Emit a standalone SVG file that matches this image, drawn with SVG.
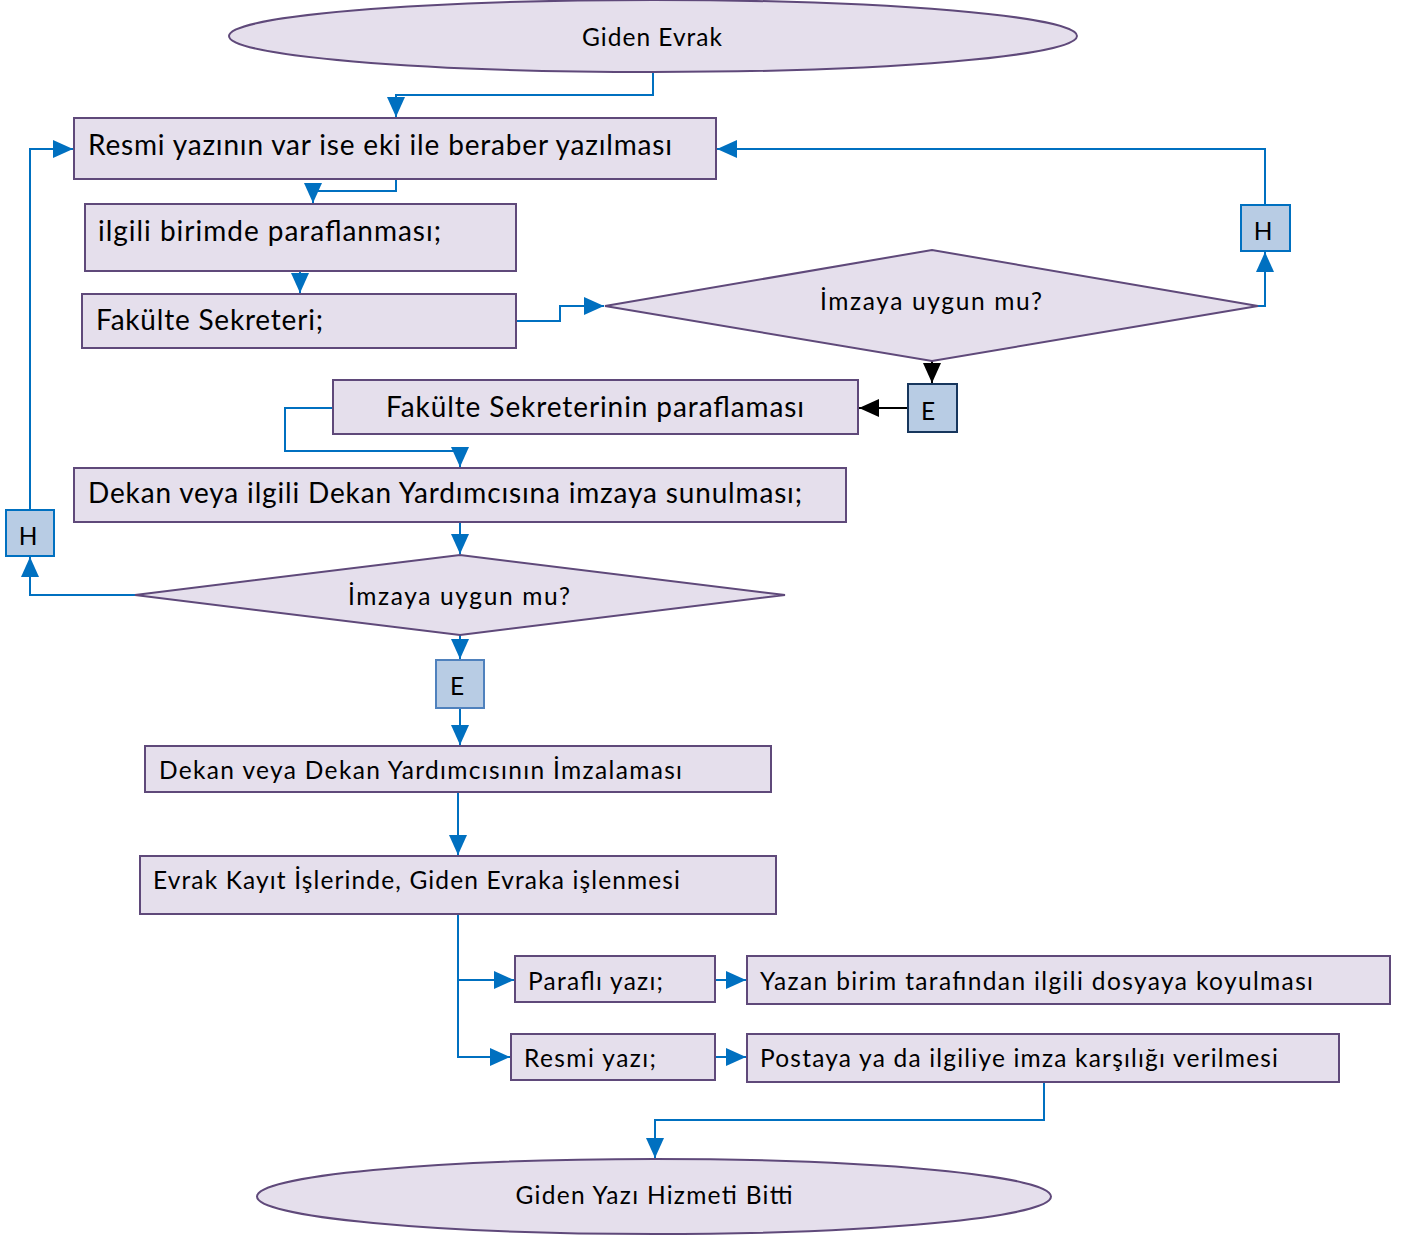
<svg xmlns="http://www.w3.org/2000/svg" width="1404" height="1236" viewBox="0 0 1404 1236">
<style>
.n{fill:#E5DFEC;stroke:#5F497A;stroke-width:2}
.b{fill:#B8CCE4;stroke-width:2}
.c{fill:none;stroke:#0070C0;stroke-width:2}
.k{fill:none;stroke:#000;stroke-width:2}
text{font-family:Lato,"Open Sans","Liberation Sans",sans-serif;fill:#000}
.L{font-size:28px}
.S{font-size:24.5px}
</style>
<defs>
<marker id="a" markerUnits="userSpaceOnUse" markerWidth="20" markerHeight="20" refX="20" refY="10" orient="auto">
<path d="M0,1 L20,10 L0,19 z" fill="#0070C0"/>
</marker>
<marker id="ak" markerUnits="userSpaceOnUse" markerWidth="20" markerHeight="20" refX="20" refY="10" orient="auto">
<path d="M0,1 L20,10 L0,19 z" fill="#000"/>
</marker>
</defs>
<rect width="1404" height="1236" fill="#fff"/>
<g id="connectors">
<path class="c" d="M653,72 V95 H396 V117" marker-end="url(#a)"/>
<path class="c" d="M396,179 V191 H313 V203" marker-end="url(#a)"/>
<path class="c" d="M300,271 V293" marker-end="url(#a)"/>
<path class="c" d="M516,321 H560 V306 H604" marker-end="url(#a)"/>
<path class="c" d="M1258,306 H1265 V252" marker-end="url(#a)"/>
<path class="c" d="M1265,205 V149 H717" marker-end="url(#a)"/>
<path class="k" d="M932,361 V383" marker-end="url(#ak)"/>
<path class="k" d="M908,408 H859" marker-end="url(#ak)"/>
<path class="c" d="M333,408 H285 V451 H460 V467" marker-end="url(#a)"/>
<path class="c" d="M460,522 V554" marker-end="url(#a)"/>
<path class="c" d="M135,595 H30 V557" marker-end="url(#a)"/>
<path class="c" d="M30,510 V149 H73" marker-end="url(#a)"/>
<path class="c" d="M460,635 V659" marker-end="url(#a)"/>
<path class="c" d="M460,708 V745" marker-end="url(#a)"/>
<path class="c" d="M458,792 V855" marker-end="url(#a)"/>
<path class="c" d="M458,914 V1057 H510" marker-end="url(#a)"/>
<path class="c" d="M458,980 H514" marker-end="url(#a)"/>
<path class="c" d="M715,980 H746" marker-end="url(#a)"/>
<path class="c" d="M715,1057 H746" marker-end="url(#a)"/>
<path class="c" d="M1044,1082 V1120 H655 V1158" marker-end="url(#a)"/>
</g>
<g id="start">
<ellipse class="n" cx="653" cy="36" rx="424" ry="36"/>
<text class="S" x="652" y="46" text-anchor="middle" textLength="140">Giden Evrak</text>
</g>
<g id="yazilmasi">
<rect class="n" x="74" y="118" width="642" height="61"/>
<text class="L" x="88" y="155" textLength="584">Resmi yazının var ise eki ile beraber yazılması</text>
</g>
<g id="paraflanmasi">
<rect class="n" x="85" y="204" width="431" height="67"/>
<text class="L" x="98" y="241" textLength="343">ilgili birimde paraflanması;</text>
</g>
<g id="fakulte">
<rect class="n" x="82" y="294" width="434" height="54"/>
<text class="L" x="96" y="330" textLength="227">Fakülte Sekreteri;</text>
</g>
<g id="karar1">
<polygon class="n" points="605,306 932,250 1258,306 932,361"/>
<text class="S" x="931" y="310" text-anchor="middle" textLength="222">İmzaya uygun mu?</text>
</g>
<g id="h1">
<rect class="b" x="1241" y="205" width="49" height="46" stroke="#0070C0"/>
<text class="S" x="1263" y="240" text-anchor="middle">H</text>
</g>
<g id="e1">
<rect class="b" x="908" y="384" width="49" height="48" stroke="#17365D"/>
<text class="S" x="928" y="420" text-anchor="middle">E</text>
</g>
<g id="sekreter-paraf">
<rect class="n" x="333" y="380" width="525" height="54"/>
<text class="L" x="386" y="417" textLength="418">Fakülte Sekreterinin paraflaması</text>
</g>
<g id="dekan-sunum">
<rect class="n" x="74" y="468" width="772" height="54"/>
<text class="L" x="88" y="503" textLength="714">Dekan veya ilgili Dekan Yardımcısına imzaya sunulması;</text>
</g>
<g id="h2">
<rect class="b" x="6" y="510" width="48" height="46" stroke="#0070C0"/>
<text class="S" x="28" y="545" text-anchor="middle">H</text>
</g>
<g id="karar2">
<polygon class="n" points="135,595 460,555 785,595 460,635"/>
<text class="S" x="459" y="605" text-anchor="middle" textLength="222">İmzaya uygun mu?</text>
</g>
<g id="e2">
<rect class="b" x="436" y="660" width="48" height="48" stroke="#4F81BD"/>
<text class="S" x="457" y="695" text-anchor="middle">E</text>
</g>
<g id="imzalama">
<rect class="n" x="145" y="746" width="626" height="46"/>
<text class="S" x="159" y="779" textLength="523">Dekan veya Dekan Yardımcısının İmzalaması</text>
</g>
<g id="evrak-kayit">
<rect class="n" x="140" y="856" width="636" height="58"/>
<text class="S" x="153" y="889" textLength="527">Evrak Kayıt İşlerinde, Giden Evraka işlenmesi</text>
</g>
<g id="parafli">
<rect class="n" x="515" y="956" width="200" height="46"/>
<text class="S" x="528" y="990" textLength="135">Paraflı yazı;</text>
</g>
<g id="dosya">
<rect class="n" x="747" y="956" width="643" height="48"/>
<text class="S" x="760" y="990" textLength="553">Yazan birim tarafından ilgili dosyaya koyulması</text>
</g>
<g id="resmi">
<rect class="n" x="511" y="1034" width="204" height="46"/>
<text class="S" x="524" y="1067" textLength="132">Resmi yazı;</text>
</g>
<g id="posta">
<rect class="n" x="747" y="1034" width="592" height="48"/>
<text class="S" x="760" y="1067" textLength="518">Postaya ya da ilgiliye imza karşılığı verilmesi</text>
</g>
<g id="end">
<ellipse class="n" cx="654" cy="1196.5" rx="397" ry="37.5"/>
<text class="S" x="654" y="1204" text-anchor="middle" textLength="277">Giden Yazı Hizmeti Bitti</text>
</g>
</svg>
